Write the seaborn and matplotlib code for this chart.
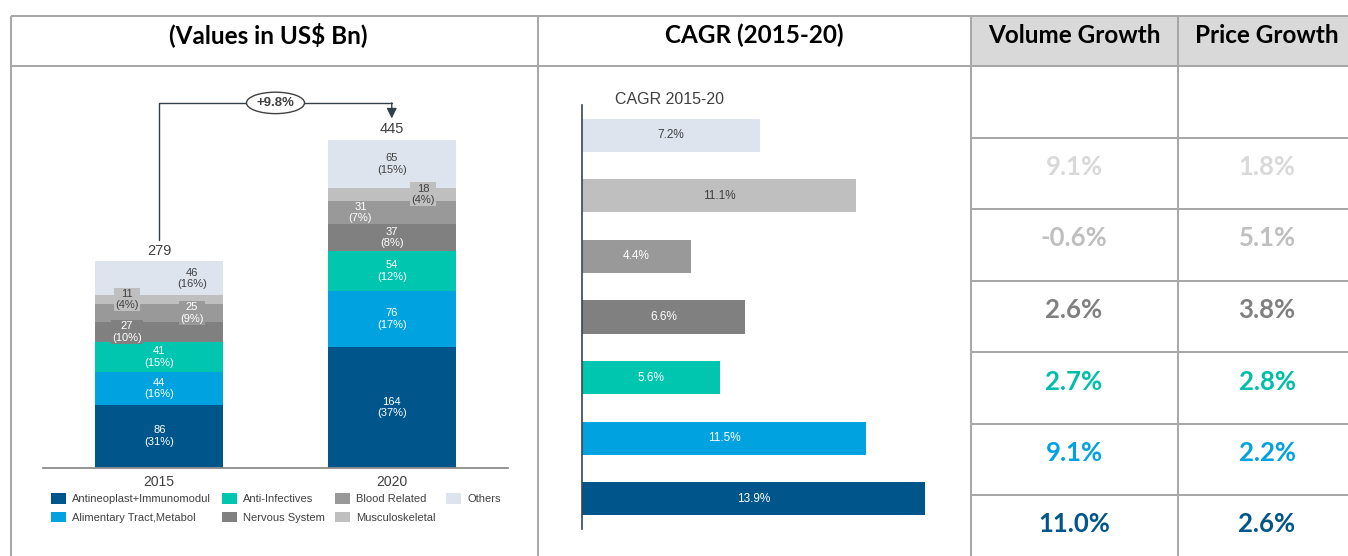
import matplotlib
matplotlib.use("Agg")
import matplotlib.pyplot as plt
from matplotlib.patches import Patch, Rectangle
import seaborn as sns
import pandas as pd

# ---- data ----
categories = ["Antineoplast+Immunomodul", "Alimentary Tract,Metabol", "Anti-Infectives",
              "Nervous System", "Blood Related", "Musculoskeletal", "Others"]
years = ["2015", "2020"]
values_2015 = [86, 44, 41, 27, 25, 11, 46]
values_2020 = [164, 76, 54, 37, 31, 18, 65]
share_2015 = [31, 16, 15, 10, 9, 4, 16]
share_2020 = [37, 17, 12, 8, 7, 4, 15]
totals = [279, 445]
growth_label = "+9.8%"

cagr_order = ["Others", "Musculoskeletal", "Blood Related", "Nervous System",
              "Anti-Infectives", "Alimentary Tract,Metabol", "Antineoplast+Immunomodul"]
cagr_values = [7.2, 11.1, 4.4, 6.6, 5.6, 11.5, 13.9]
volume_growth = ["", "9.1%", "-0.6%", "2.6%", "2.7%", "9.1%", "11.0%"]
price_growth = ["", "1.8%", "5.1%", "3.8%", "2.8%", "2.2%", "2.6%"]

headers = ["(Values in US$ Bn)", "CAGR (2015-20)", "Volume Growth", "Price Growth"]

# ---- style ----
palette = {
    "Antineoplast+Immunomodul": "#00568A",
    "Alimentary Tract,Metabol": "#00A3E0",
    "Anti-Infectives": "#00C6B0",
    "Nervous System": "#808080",
    "Blood Related": "#999999",
    "Musculoskeletal": "#BFBFBF",
    "Others": "#DDE4EE",
}
table_colors = ["#FFFFFF", "#D9D9D9", "#BFBFBF", "#808080", "#00BFAA", "#00A3E0", "#00568A"]
dark_text = {"Musculoskeletal", "Others"}
label_shift = {("2015", "Nervous System"): -0.14, ("2015", "Blood Related"): 0.14,
               ("2015", "Musculoskeletal"): -0.14, ("2015", "Others"): 0.14,
               ("2020", "Blood Related"): -0.135, ("2020", "Musculoskeletal"): 0.135}
TXT = "#404040"
GRID = "#A6A6A6"

sns.set_theme(style="white")
plt.rcParams["font.family"] = ["Liberation Sans", "DejaVu Sans"]

W, H = 1348, 556
fig = plt.figure(figsize=(W / 100, H / 100), dpi=100)


def rect(x0, y0, x1, y1):
    return [x0 / W, 1 - y1 / H, (x1 - x0) / W, (y1 - y0) / H]


# ---- background table frame ----
bg = fig.add_axes([0, 0, 1, 1])
bg.set_xlim(0, W)
bg.set_ylim(H, 0)
bg.axis("off")
bg.add_patch(Rectangle((971, 16), W - 971, 50, color="#D9D9D9", lw=0))
for x in [11, 538, 971, 1178]:
    bg.plot([x, x], [16, H], color=GRID, lw=1.4, solid_capstyle="butt")
for y in [16, 66]:
    bg.plot([11, W], [y, y], color=GRID, lw=1.4, solid_capstyle="butt")
row_h = 71.5
row_tops = [66 + i * row_h for i in range(len(volume_growth))]
for y in row_tops[1:]:
    bg.plot([971, W], [y, y], color=GRID, lw=1.4, solid_capstyle="butt")

head_x = [268, 754, 1074, 1267]
for hx, h in zip(head_x, headers):
    bg.text(hx, 43, h, ha="center", va="baseline", fontsize=17.5, fontweight="bold",
            family="Lato", color="black")
for i, (v, p) in enumerate(zip(volume_growth, price_growth)):
    for cx, t in [(1074, v), (1267, p)]:
        bg.text(cx, row_tops[i] + 37.5, t, ha="center", va="baseline", fontsize=18.5,
                fontweight="bold", family="Lato", color=table_colors[i])

bg.text(615, 100, "CAGR 2015-20", ha="left", va="center", fontsize=11.5, color=TXT)

# ---- stacked bars ----
rows = []
for yr, vals, shares in [("2015", values_2015, share_2015), ("2020", values_2020, share_2020)]:
    bottom = 0
    for cat, v, s in zip(categories, vals, shares):
        rows.append({"year": yr, "category": cat, "value": v, "share": s,
                     "bottom": bottom, "top": bottom + v})
        bottom += v
df = pd.DataFrame(rows)

ax = fig.add_axes(rect(43, 90, 508, 468))
ax.set_facecolor("none")
sns.barplot(data=df, x="year", y="top", hue="category", hue_order=categories[::-1],
            order=years, palette=palette, dodge=False, width=0.55, saturation=1,
            errorbar=None, legend=False, linewidth=0, ax=ax)
ax.set_xlim(-0.5, 1.5)
ax.set_ylim(0, 512.5)
ax.set_xlabel("")
ax.set_ylabel("")
ax.set_yticks([])
for s in ["top", "right", "left"]:
    ax.spines[s].set_visible(False)
ax.spines["bottom"].set_color("#8C8C8C")
ax.spines["bottom"].set_linewidth(1.3)
ax.tick_params(axis="x", length=0, labelsize=10, labelcolor=TXT, pad=5)

for _, r in df.iterrows():
    xi = years.index(r["year"]) + label_shift.get((r["year"], r["category"]), 0)
    col = palette[r["category"]]
    ax.text(xi, (r["bottom"] + r["top"]) / 2, f"{r['value']}\n({r['share']}%)",
            ha="center", va="center", fontsize=8, linespacing=1.2,
            color=TXT if r["category"] in dark_text else "white",
            bbox=dict(boxstyle="square,pad=0.1", fc=col, ec="none"))

for i, t in enumerate(totals):
    ax.text(i, t + 15, str(t), ha="center", va="center", fontsize=10.5, color=TXT)

top_y = max(totals) + 50
ax.plot([0, 0, 1, 1], [totals[0] + 30, top_y, top_y, top_y], color="#333F48", lw=1)
ax.annotate("", xy=(1, totals[1] + 29), xytext=(1, top_y),
            arrowprops=dict(arrowstyle="-|>,head_length=0.5,head_width=0.25",
                            color="#333F48", lw=1, shrinkA=0, shrinkB=0))
ax.text(0.5, top_y, growth_label, ha="center", va="center", fontsize=9.5, color=TXT,
        fontweight="bold",
        bbox=dict(boxstyle="ellipse,pad=0.12", fc="white", ec="#404040", lw=1))

handles = [Patch(facecolor=palette[c], edgecolor="none") for c in categories]
fig.legend(handles, categories, ncol=4, loc="upper left",
           bbox_to_anchor=(51 / W, 1 - 493 / H), frameon=False, fontsize=8,
           borderpad=0, borderaxespad=0, handlelength=1.35, handleheight=1.1,
           handletextpad=0.55, columnspacing=0.95, labelspacing=0.68, labelcolor=TXT)

# ---- CAGR bars ----
cdf = pd.DataFrame({"category": cagr_order, "cagr": cagr_values})
ax2 = fig.add_axes(rect(582, 105, 960, 529))
ax2.set_facecolor("none")
sns.barplot(data=cdf, x="cagr", y="category", hue="category", palette=palette,
            orient="h", width=0.545, saturation=1, legend=False, linewidth=0, ax=ax2)
ax2.set_xlim(0, 15.3)
ax2.set_ylim(6.5, -0.5)
ax2.set_xlabel("")
ax2.set_ylabel("")
ax2.set_xticks([])
ax2.set_yticks([])
for s in ["top", "right", "bottom"]:
    ax2.spines[s].set_visible(False)
ax2.spines["left"].set_color("#3A4652")
ax2.spines["left"].set_linewidth(1.2)
for i, (c, v) in enumerate(zip(cagr_order, cagr_values)):
    ax2.text(v / 2, i, f"{v}%", ha="center", va="center", fontsize=8.5,
             color=TXT if c in dark_text else "white")

fig.savefig("out.png", dpi=100)
